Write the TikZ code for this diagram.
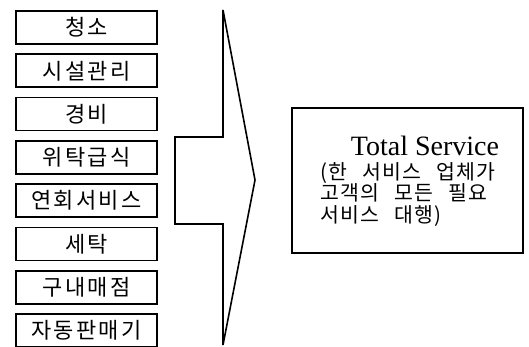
\documentclass[tikz,border=0pt]{standalone}
\usepackage{fontspec}
\setmainfont{Liberation Serif}
\newfontfamily\kr{Noto Sans CJK KR}[LetterSpace=10]
\newfontfamily\krr{Noto Sans CJK KR}[LetterSpace=6]
\newcommand{\wsp}{\hspace{15pt}}
\begin{document}
\begin{tikzpicture}[x=1pt,y=-1pt,
  itembox/.style={draw, line width=1.6pt, minimum width=141pt, minimum height=33pt, inner sep=0pt, font=\kr\fontsize{22}{24}\selectfont},
  bigbox/.style={draw, line width=1.6pt, minimum width=231pt, minimum height=145pt, inner sep=0pt},
  arrowline/.style={line width=1.6pt, line join=miter}]
\useasboundingbox (0,0) rectangle (529,347);
\node[itembox] (b1) at (86.5,27.5) {청소};
\node[itembox] (b2) at (86.5,70.8) {시설관리};
\node[itembox] (b3) at (86.5,114.1) {경비};
\node[itembox] (b4) at (86.5,157.4) {위탁급식};
\node[itembox] (b5) at (86.5,200.7) {연회서비스};
\node[itembox] (b6) at (86.5,244) {세탁};
\node[itembox] (b7) at (86.5,287.3) {구내매점};
\node[itembox] (b8) at (86.5,330.6) {자동판매기};
\draw[arrowline] (223,10) -- (255,180) -- (223,345) -- (223,224) -- (175,224) -- (175,137) -- (223,137) -- cycle;
\node[bigbox] (tot) at (407.5,180.5) {};
\node[font=\fontsize{28}{30}\selectfont, inner sep=0pt, text depth=0pt, anchor=base] (t1) at (425,155.5) {Total Service};
\node[font=\krr\fontsize{20.5}{21.5}\selectfont, align=left, anchor=north west, inner sep=0pt] (t2) at (320,162) {(한\wsp 서비스\wsp 업체가\\ 고객의\wsp 모든\wsp 필요\\ 서비스\wsp 대행)};
\end{tikzpicture}
\end{document}
